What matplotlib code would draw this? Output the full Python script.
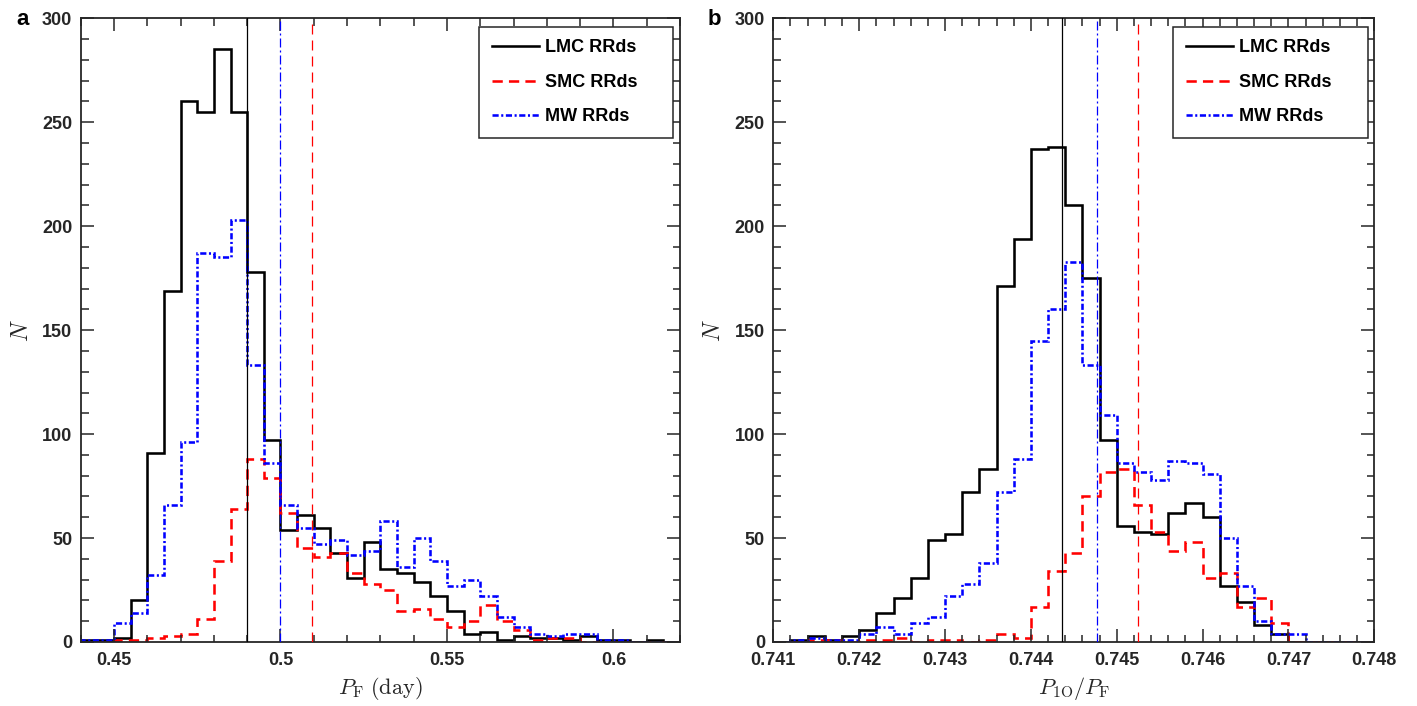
import numpy as np
import matplotlib
matplotlib.use("Agg")
import matplotlib.pyplot as plt
from matplotlib.ticker import FixedLocator, FixedFormatter, MultipleLocator
from matplotlib.lines import Line2D

plt.rcParams['font.family'] = ['Liberation Sans', 'DejaVu Sans']
plt.rcParams['mathtext.fontset'] = 'cm'

# ---------------- data: panel a (fundamental period, day) ----------------
pf_edges = np.round(np.arange(0.440, 0.62001, 0.005), 3)   # 36 bins
pf_lmc = [1, 1, 2, 20, 91, 169, 260, 255, 285, 255, 178, 97, 54, 61, 55, 43, 31, 48,
          35, 33, 29, 22, 15, 4, 5, 1, 3, 2, 2, 1, 3, 1, 1, 0, 1, 0]
pf_smc = [0, 0, 1, 1, 2, 3, 4, 11, 39, 64, 88, 79, 62, 45, 41, 43, 33, 28,
          25, 15, 16, 11, 7, 10, 18, 10, 6, 1, 2, 2, 0, 0, 0, 0, 0, 0]
pf_mw = [1, 1, 9, 14, 32, 66, 96, 187, 185, 203, 133, 86, 66, 55, 47, 49, 42, 44,
         58, 36, 50, 39, 27, 30, 22, 12, 7, 4, 3, 4, 4, 1, 1, 0, 0, 0]
pf_med = {'LMC': 0.490, 'SMC': 0.5095, 'MW': 0.500}
pf_ticks = [0.45, 0.50, 0.55, 0.60]
pf_ticklabels = ['0.45', '0.5', '0.55', '0.6']

# ---------------- data: panel b (period ratio P1O/PF) ----------------
pr_edges = np.round(np.arange(0.7410, 0.74801, 0.0002), 4)  # 35 bins
pr_lmc = [0, 1, 3, 1, 3, 6, 14, 21, 31, 49, 52, 72, 83, 171, 194, 237, 238, 210,
          175, 97, 56, 53, 52, 62, 67, 60, 27, 19, 8, 4, 0, 0, 0, 0, 0]
pr_smc = [0, 0, 1, 1, 0, 1, 1, 2, 0, 1, 1, 0, 1, 4, 2, 17, 34, 43,
          70, 82, 83, 66, 53, 44, 48, 31, 33, 17, 21, 9, 0, 0, 0, 0, 0]
pr_mw = [0, 1, 2, 1, 1, 4, 7, 4, 9, 12, 22, 28, 38, 72, 88, 145, 160, 183,
         133, 109, 86, 82, 78, 87, 86, 81, 50, 27, 10, 4, 4, 0, 0, 0, 0]
pr_med = {'LMC': 0.74436, 'SMC': 0.74525, 'MW': 0.74477}
pr_ticks = [0.741, 0.742, 0.743, 0.744, 0.745, 0.746, 0.747, 0.748]
pr_ticklabels = ['0.741', '0.742', '0.743', '0.744', '0.745', '0.746', '0.747', '0.748']

labels = ['LMC RRds', 'SMC RRds', 'MW RRds']

# ---------------- styling ----------------
AXC = '#262626'
W, H = 1417, 706
fig = plt.figure(figsize=(W / 100, H / 100), dpi=100)

hist_lw = 1.85
styles = {
    'LMC': dict(color='black', linestyle='-'),
    'SMC': dict(color='#ff0000', linestyle=(0, (4.0, 2.4))),
    'MW': dict(color='#0000ff', linestyle=(0, (2.4, 1.0, 0.8, 1.0))),
}
vstyles = {
    'LMC': dict(color='black', linestyle='-'),
    'SMC': dict(color='#ff0000', linestyle=(0, (8.0, 4.8))),
    'MW': dict(color='#0000ff', linestyle=(0, (7.2, 2.4, 1.6, 2.4))),
}


def make_panel(rect, edges, lmc, smc, mw, med, ticks, ticklabels, minor, xlim,
               xlabel, letter, letter_xy):
    ax = fig.add_axes(rect)
    for key, vals, lab in (('LMC', lmc, labels[0]), ('SMC', smc, labels[1]), ('MW', mw, labels[2])):
        ax.stairs(vals, edges, baseline=0, fill=False, linewidth=hist_lw, label=lab,
                  **styles[key])
    for key in ('LMC', 'MW', 'SMC'):
        ax.axvline(med[key], linewidth=0.9, zorder=3, **vstyles[key])
    ax.set_xlim(*xlim)
    ax.set_ylim(0, 300)
    ax.xaxis.set_major_locator(FixedLocator(ticks))
    ax.xaxis.set_major_formatter(FixedFormatter(ticklabels))
    ax.xaxis.set_minor_locator(MultipleLocator(minor))
    ax.yaxis.set_major_locator(MultipleLocator(50))
    ax.yaxis.set_minor_locator(MultipleLocator(10))
    ax.tick_params(which='both', direction='in', top=True, right=True,
                   color=AXC, width=1.1)
    ax.tick_params(which='major', length=9.4)
    ax.tick_params(which='minor', length=5.4)
    ax.tick_params(axis='x', which='major', pad=7)
    ax.tick_params(axis='y', which='major', pad=6)
    for lab in ax.get_xticklabels() + ax.get_yticklabels():
        lab.set_fontweight('bold')
        lab.set_fontsize(13)
        lab.set_color(AXC)
    for sp in ax.spines.values():
        sp.set_linewidth(1.3)
        sp.set_color(AXC)
    ax.set_xlabel(xlabel, fontsize=16, color=AXC)
    ax.xaxis.set_label_coords(0.5, -0.074)
    ax.xaxis.label.set_va('center')
    ax.set_ylabel(r'$N$', fontsize=17, color=AXC)
    ax.yaxis.set_label_coords(-0.098, 0.5)
    ax.yaxis.label.set_va('center')
    lh = [Line2D([], [], linewidth=hist_lw, **styles[k]) for k in ('LMC', 'SMC', 'MW')]
    leg = ax.legend(lh, labels, loc='upper left', bbox_to_anchor=(0.665, 0, 0.324, 0.9865),
                    mode='expand', borderaxespad=0, fancybox=False, framealpha=1,
                    edgecolor=AXC, handlelength=2.6, handletextpad=0.35,
                    labelspacing=0.97, borderpad=0.7,
                    prop={'weight': 'bold', 'size': 13})
    leg.get_frame().set_linewidth(1.1)
    fig.text(letter_xy[0] / W, 1 - letter_xy[1] / H, letter, fontsize=16,
             fontweight='bold', ha='center', va='center', color='black')
    return ax


bottom = 1 - 642 / H
height = (642 - 18.3) / H
make_panel([80.7 / W, bottom, 599.3 / W, height], pf_edges, pf_lmc, pf_smc, pf_mw, pf_med,
           pf_ticks, pf_ticklabels, 0.01, (0.44, 0.62),
           r'$P_{\mathrm{F}}\ \mathrm{(day)}$', 'a', (22.5, 19.5))
make_panel([773.3 / W, bottom, 601 / W, height], pr_edges, pr_lmc, pr_smc, pr_mw, pr_med,
           pr_ticks, pr_ticklabels, 0.0002, (0.741, 0.748),
           r'$P_{\mathrm{1O}}/P_{\mathrm{F}}$', 'b', (714, 19.5))

fig.savefig('out.png', dpi=100)
